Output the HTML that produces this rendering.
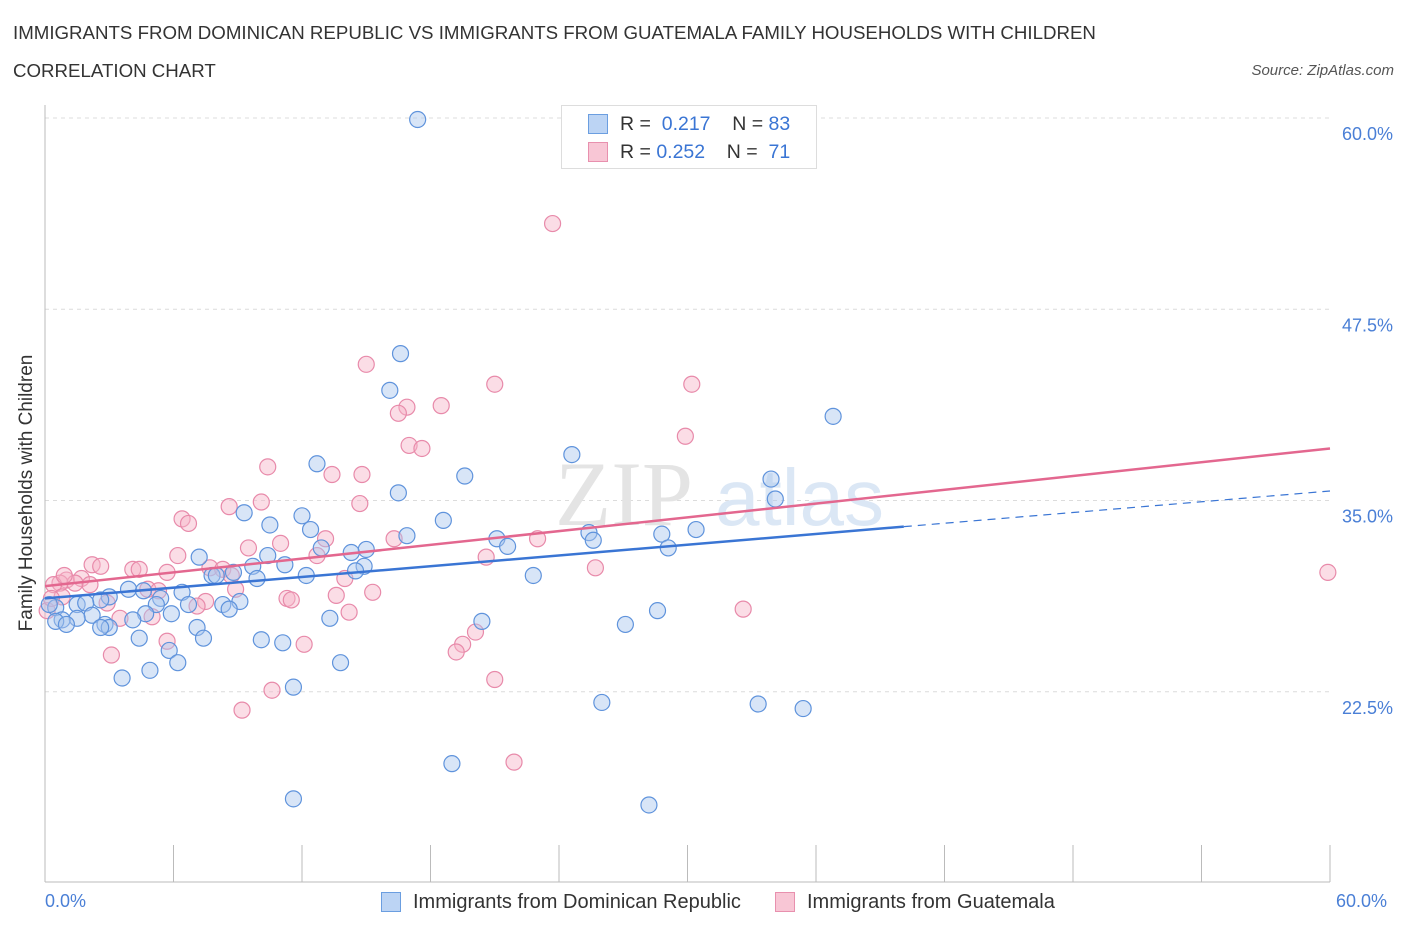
<!DOCTYPE html>
<html><head><meta charset="utf-8"><style>
body{margin:0;background:#fff;font-family:"Liberation Sans",sans-serif;}
#wrap{position:relative;width:1406px;height:930px;overflow:hidden;}
.t{position:absolute;white-space:nowrap;}
</style></head><body>
<div id="wrap">
<div class="t" style="left:13px;top:22px;font-size:18.7px;color:#333;">IMMIGRANTS FROM DOMINICAN REPUBLIC VS IMMIGRANTS FROM GUATEMALA FAMILY HOUSEHOLDS WITH CHILDREN</div>
<div class="t" style="left:13px;top:60px;font-size:18.7px;color:#333;">CORRELATION CHART</div>
<div class="t" style="right:12px;top:62px;font-size:15px;color:#555;font-style:italic;">Source: ZipAtlas.com</div>
<svg id="svg" width="1406" height="930" style="position:absolute;left:0;top:0"></svg>
</div>
<script>
const tickVals=[22.5,35,47.5,60];
const tickLabels=["22.5%","35.0%","47.5%","60.0%"];
const blueX=[17.4,16.6,16.1,36.8,24.6,12.7,19.6,33.9,16.5,34.1,9.3,18.6,10.5,12.0,12.4,16.9,21.1,25.4,28.8,30.4,25.6,21.6,29.1,12.9,15.0,14.3,7.2,10.4,11.2,14.9,14.5,9.7,7.8,8.0,8.8,9.9,12.2,22.8,3.9,4.6,6.4,5.4,3.0,2.6,1.5,1.9,0.5,0.2,9.1,6.7,8.3,8.6,5.2,2.2,1.5,0.8,0.5,5.9,4.7,4.1,2.8,3.0,2.6,1.0,13.3,20.4,28.6,27.1,7.1,7.4,4.4,10.1,11.1,5.8,6.2,4.9,3.6,13.8,11.6,26.0,33.3,35.4,19.0,11.6,28.2];
const blueY=[59.9,44.6,42.2,40.5,38.0,37.4,36.6,36.4,35.5,35.1,34.2,33.7,33.4,34.0,33.1,32.7,32.5,32.9,32.8,33.1,32.4,32.0,31.9,31.9,31.8,31.6,31.3,31.4,30.8,30.7,30.4,30.7,30.1,30.1,30.3,29.9,30.1,30.1,29.2,29.1,29.0,28.6,28.7,28.5,28.2,28.3,28.0,28.2,28.4,28.2,28.2,27.9,28.2,27.5,27.3,27.2,27.1,27.6,27.6,27.2,26.9,26.7,26.7,26.9,27.3,27.1,27.8,26.9,26.7,26.0,26.0,25.9,25.7,25.2,24.4,23.9,23.4,24.4,22.8,21.8,21.7,21.4,17.8,15.5,15.1];
const pinkX=[23.7,15.0,21.0,30.2,16.9,16.5,18.5,29.9,17.0,17.6,10.4,14.8,13.4,10.1,14.7,8.6,6.4,6.7,13.1,16.3,23.0,9.5,11.0,6.2,20.6,12.7,25.7,2.2,2.6,4.1,4.4,7.7,8.3,5.7,8.7,14.0,1.0,0.7,1.7,2.1,1.4,4.8,8.9,5.3,15.3,13.6,11.3,11.5,7.5,2.9,3.5,5.0,7.1,32.6,14.2,20.1,5.7,19.5,19.2,12.1,3.1,21.0,10.6,9.2,21.9,59.9,0.4,0.8,0.1,0.3,0.9];
const pinkY=[53.1,43.9,42.6,42.6,41.1,40.7,41.2,39.2,38.6,38.4,37.2,36.7,36.7,34.9,34.8,34.6,33.8,33.5,32.5,32.5,32.5,31.9,32.2,31.4,31.3,31.4,30.6,30.8,30.7,30.5,30.5,30.6,30.5,30.3,30.1,29.9,29.8,29.6,29.9,29.5,29.6,29.2,29.2,29.1,29.0,28.8,28.6,28.5,28.4,28.3,27.3,27.4,28.1,27.9,27.7,26.4,25.8,25.6,25.1,25.6,24.9,23.3,22.6,21.3,17.9,30.3,29.5,28.7,27.8,28.6,30.1];
const blueTrend=[28.6,0.117];
const pinkTrend=[29.4,0.150];

const NS="http://www.w3.org/2000/svg";
const svg=document.getElementById('svg');
const X=v=>45+v/60*1285;
const Y=v=>118+(60-v)*15.3;
function mk(tag,attrs,parent){const e=document.createElementNS(NS,tag);for(const k in attrs)e.setAttribute(k,attrs[k]);(parent||svg).appendChild(e);return e;}
tickVals.forEach((v,i)=>{
  const g=mk('line',{x1:45,x2:1330,y1:Y(v),y2:Y(v),stroke:'#dcdcdc','stroke-dasharray':'4,4'});
  
  
  const t=mk('text',{x:1393,y:Y(v)+22,'text-anchor':'end','font-size':18,fill:'#4a7fd6','font-family':'Liberation Sans, sans-serif'});
  t.textContent=tickLabels[i];
  
  
});
const ax=mk('line',{x1:45,x2:1330,y1:882,y2:882,stroke:'#bbb'});


const ay=mk('line',{x1:45,x2:45,y1:105,y2:882,stroke:'#bbb'});


for(let i=0;i<=10;i++){
  const tk=mk('line',{x1:X(i*6),x2:X(i*6),y1:i==0?882:845,y2:882,stroke:'#bbb'});
  
  
}
const wm=mk('text',{x:555,y:525,'font-size':92,fill:'#e4e4e4','font-family':'Liberation Serif, serif'});
wm.textContent='ZIP';


const wm2=mk('text',{x:715,y:525,'font-size':80,fill:'#dbe7f5','font-family':'Liberation Sans, sans-serif'});
wm2.textContent='atlas';


function pts(xs,ys,fill,stroke,name){
  xs.forEach((x,i)=>{
    const c=mk('circle',{cx:X(x),cy:Y(ys[i]),r:8,fill:fill,'fill-opacity':0.45,stroke:stroke,'stroke-width':1.2});
    
    
  });
}
pts(pinkX,pinkY,'#f6b3c8','#e88aaa','point-guatemala');
pts(blueX,blueY,'#a8c6ee','#5f93dc','point-dominican');
const bl=mk('line',{x1:X(0),y1:Y(blueTrend[0]),x2:X(40.1),y2:Y(blueTrend[0]+blueTrend[1]*40.1),stroke:'#3a75d4','stroke-width':2.5});


const bd=mk('line',{x1:X(40.1),y1:Y(blueTrend[0]+blueTrend[1]*40.1),x2:X(60),y2:Y(blueTrend[0]+blueTrend[1]*60),stroke:'#3a75d4','stroke-width':1.2,'stroke-dasharray':'8,6'});


const pl=mk('line',{x1:X(0),y1:Y(pinkTrend[0]),x2:X(60),y2:Y(pinkTrend[0]+pinkTrend[1]*60),stroke:'#e3678f','stroke-width':2.5});


</script>
<div class="t" style="left:-123px;top:482px;font-size:19px;color:#333;transform:rotate(-90deg);transform-origin:center;width:300px;text-align:center;">Family Households with Children</div>
<div class="t" style="left:45px;top:891px;font-size:18px;color:#4a7fd6;">0.0%</div>
<div class="t" style="left:1336px;top:891px;font-size:18px;color:#4a7fd6;">60.0%</div>
<div style="position:absolute;left:561px;top:105px;width:254px;height:62px;border:1px solid #ddd;background:#fff;font-size:19.5px;">
  <div style="position:absolute;left:26px;top:8px;width:18px;height:18px;background:#bcd4f4;border:1px solid #6b9ee0;"></div>
  <div class="t" style="left:58px;top:7px;color:#333;">R = <span style="color:#3a75d4">&nbsp;0.217</span>&nbsp;&nbsp;&nbsp;&nbsp;N = <span style="color:#3a75d4">83</span></div>
  <div style="position:absolute;left:26px;top:36px;width:18px;height:18px;background:#f8c6d5;border:1px solid #e890ae;"></div>
  <div class="t" style="left:58px;top:35px;color:#333;">R = <span style="color:#3a75d4">0.252</span>&nbsp;&nbsp;&nbsp;&nbsp;N = <span style="color:#3a75d4">&nbsp;71</span></div>
</div>
<div style="position:absolute;left:381px;top:891px;font-size:20px;color:#333;">
  <div style="position:absolute;left:0;top:1px;width:18px;height:18px;background:#bcd4f4;border:1px solid #6b9ee0;"></div>
  <div class="t" style="left:32px;top:0;">Immigrants from Dominican Republic</div>
</div>
<div style="position:absolute;left:775px;top:891px;font-size:20px;color:#333;">
  <div style="position:absolute;left:0;top:1px;width:18px;height:18px;background:#f8c6d5;border:1px solid #e890ae;"></div>
  <div class="t" style="left:32px;top:0;">Immigrants from Guatemala</div>
</div>
</body></html>
